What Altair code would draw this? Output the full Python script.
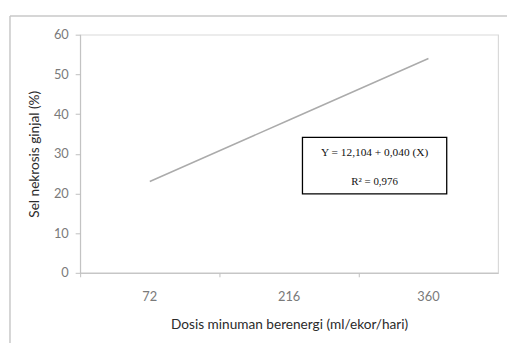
import altair as alt
import pandas as pd

# ---- data ----
dosis = ["72", "216", "360"]
sel_nekrosis = [23.0, 38.5, 54.0]
y_ticks = [0, 10, 20, 30, 40, 50, 60]
eq_lines = ["Y = 12,104 + 0,040 (X)", "R\u00b2 = 0,976"]

x_title = "Dosis minuman berenergi (ml/ekor/hari)"
y_title = "Sel nekrosis ginjal (%)"

df = pd.DataFrame({"dosis": dosis, "sel": sel_nekrosis})
one = pd.DataFrame({"k": [0]})
eq_df = pd.DataFrame({"t": eq_lines, "i": list(range(len(eq_lines)))})

FONT = "Lato"
W, H = 423, 241

line = alt.Chart(df).mark_line(color="#ababab", strokeWidth=1.5).encode(
    x=alt.X(
        "dosis:N",
        sort=dosis,
        bandPosition=0.5,
        scale=alt.Scale(type="band", paddingInner=0, paddingOuter=0),
        axis=alt.Axis(
            title=x_title,
            labelAngle=0,
            bandPosition=0,
            tickSize=4,
            labelPadding=14,
            titlePadding=14,
        ),
    ),
    y=alt.Y(
        "sel:Q",
        scale=alt.Scale(domain=[0, 60], nice=False),
        axis=alt.Axis(
            title=y_title,
            values=y_ticks,
            tickSize=5,
            labelPadding=7,
            titlePadding=12,
        ),
    ),
)

# equation box
box = alt.Chart(one).mark_rect(fill="white", stroke="black", strokeWidth=1.3).encode(
    x=alt.value(225), x2=alt.value(371), y=alt.value(104), y2=alt.value(161)
)
txt1 = alt.Chart(eq_df).transform_filter("datum.i == 0").mark_text(
    font="Liberation Serif", fontSize=11.5, color="#111111"
).encode(text="t:N", x=alt.value(298), y=alt.value(120))
txt2 = alt.Chart(eq_df).transform_filter("datum.i == 1").mark_text(
    font="Liberation Serif", fontSize=11, color="#111111"
).encode(text="t:N", x=alt.value(298), y=alt.value(149))

# outer frame (top and left edges visible in reference)
frame_top = alt.Chart(one).mark_rule(color="#c8c8c8", strokeWidth=1.5).encode(
    x=alt.value(-71), x2=alt.value(440), y=alt.value(-19)
)
frame_left = alt.Chart(one).mark_rule(color="#c8c8c8", strokeWidth=1.5).encode(
    x=alt.value(-71), y=alt.value(-19), y2=alt.value(330)
)

chart = (
    alt.layer(frame_top, frame_left, line, box, txt1, txt2)
    .properties(
        width=W,
        height=H,
        autosize=alt.AutoSizeParams(type="none"),
        padding={"left": 73, "top": 25, "right": 9, "bottom": 69},
    )
    .configure_view(stroke="#d9d9d9", strokeWidth=1.2)
    .configure_axis(
        grid=False,
        domainColor="#bfbfbf",
        tickColor="#bfbfbf",
        labelColor="#7a7a7a",
        titleColor="#2b2b2b",
        labelFont=FONT,
        titleFont=FONT,
        labelFontSize=13,
        titleFontSize=13.8,
        titleFontWeight="normal",
    )
)

chart.save("out.html", embed_options={"renderer": "svg", "actions": False})
